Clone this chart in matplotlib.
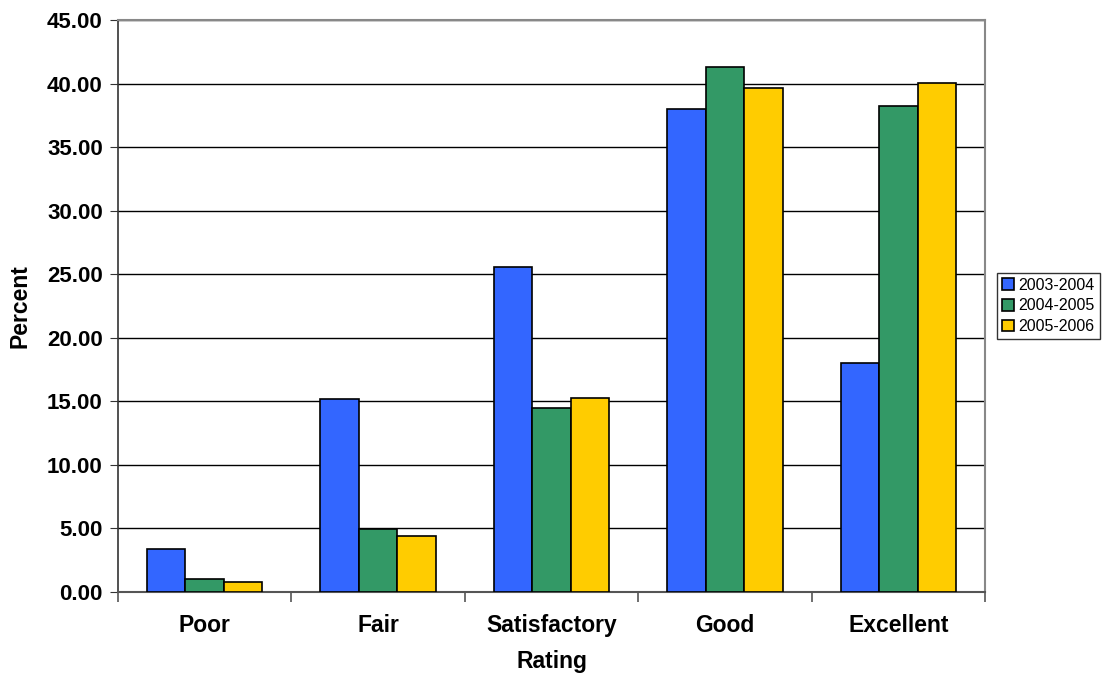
import numpy as np
import matplotlib
matplotlib.use("Agg")
import matplotlib.pyplot as plt

plt.rcParams['font.family'] = ['Liberation Sans', 'DejaVu Sans']

categorias = ["Poor", "Fair", "Satisfactory", "Good", "Excellent"]
series = ["2003-2004", "2004-2005", "2005-2006"]
v2003 = [3.36, 15.18, 25.55, 37.98, 18.02]
v2004 = [1.05, 4.96, 14.48, 41.28, 38.26]
v2005 = [0.81, 4.38, 15.29, 39.63, 40.05]
colores = ["#3366FF", "#339966", "#FFCC00"]

fig = plt.figure(figsize=(11.04, 6.73), dpi=100)
ax = fig.add_axes([0.1069, 0.1204, 0.7853, 0.8499])

x = np.arange(len(categorias))
ancho = 0.222
for i, (nombre, vals) in enumerate(zip(series, [v2003, v2004, v2005])):
    ax.bar(x + (i - 1) * ancho, vals, ancho, color=colores[i], edgecolor="black",
           linewidth=1.2, label=nombre, zorder=3)

ax.set_xlim(-0.5, len(categorias) - 0.5)
ax.set_ylim(0, 45)
ax.set_yticks(np.arange(0, 45.1, 5))
ax.set_yticklabels([f"{v:.2f}" for v in np.arange(0, 45.1, 5)], fontsize=16, fontweight="bold")
ax.yaxis.grid(True, color="black", linewidth=1, zorder=0)

ax.set_xticks(x)
ax.set_xticklabels(categorias, fontsize=16.5, fontweight="bold")
ax.tick_params(axis="x", length=0, pad=16)
ax.set_xticks(np.arange(-0.5, len(categorias)), minor=True)
ax.tick_params(axis="x", which="minor", length=7, color="#555555", width=1.2)
ax.tick_params(axis="y", length=6, color="#333333", pad=5)

ax.spines["top"].set_color("#888888")
ax.spines["right"].set_color("#888888")
ax.spines["top"].set_linewidth(1.5)
ax.spines["right"].set_linewidth(1.5)
ax.spines["left"].set_color("#333333")
ax.spines["bottom"].set_color("#555555")
ax.spines["left"].set_linewidth(1.2)
ax.spines["bottom"].set_linewidth(1.5)

ax.set_xlabel("Rating", fontsize=16.5, fontweight="bold", labelpad=9)
ax.set_ylabel("Percent", fontsize=16.5, fontweight="bold", labelpad=11)

leg = ax.legend(loc="center left", bbox_to_anchor=(1.014, 0.5), fontsize=11.5,
                frameon=True, fancybox=False, edgecolor="black",
                handlelength=0.75, handleheight=0.75, handletextpad=0.3,
                borderpad=0.3, labelspacing=0.35, borderaxespad=0)
leg.get_frame().set_linewidth(1)

fig.savefig("out.png", dpi=100)
